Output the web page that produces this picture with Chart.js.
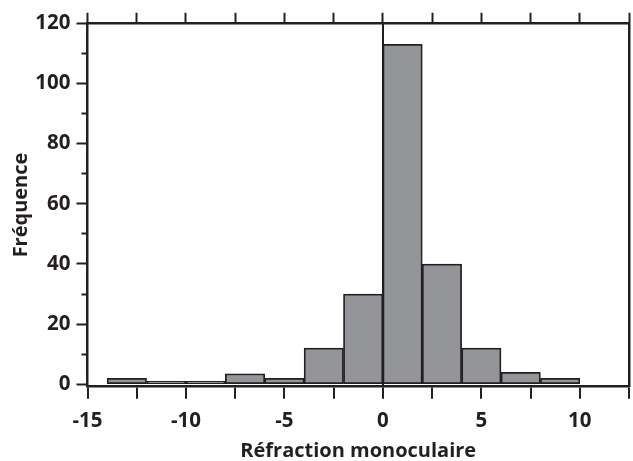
<!DOCTYPE html>
<html>
<head>
<meta charset="utf-8">
<script src="https://cdn.jsdelivr.net/npm/chart.js@4/dist/chart.umd.min.js"></script>
<style>
  html, body { margin: 0; padding: 0; background: #ffffff; }
  #wrap { width: 633px; height: 461px; }
</style>
</head>
<body>
<div id="wrap"><canvas id="c" width="633" height="461"></canvas></div>
<script>
// ---- Data ----
const binCenters = [-13, -11, -9, -7, -5, -3, -1, 1, 3, 5, 7, 9];   // bins of width 2 from -14 to 10
const counts     = [2, 1, 1, 3.5, 2, 12, 30, 113, 40, 12, 4, 2];
const yMajorTicks = [0, 20, 40, 60, 80, 100, 120];
const yMinorTicks = [10, 30, 50, 70, 90, 110];
const xLabelTicks = [-15, -10, -5, 0, 5, 10];
const xTitle = 'Réfraction monoculaire';
const yTitle = 'Fréquence';

const INK = '#231f20';
const FILL = '#939598';
const FONT = "'Open Sans', 'Noto Sans', sans-serif";

const X_MIN = -15, X_MAX = 12.5, Y_MIN = -0.8, Y_MAX = 120;

const data = {
  datasets: [{
    type: 'bar',
    data: binCenters.map((c, i) => ({ x: c, y: counts[i] })),
    backgroundColor: FILL,
    borderColor: INK,
    borderWidth: 1.75,
    borderSkipped: false,
    barPercentage: 1,
    categoryPercentage: 1,
    xAxisID: 'x',
    yAxisID: 'y'
  }]
};

new Chart(document.getElementById('c'), {
  type: 'bar',
  data,
  options: {
    responsive: false,
    devicePixelRatio: 1,
    animation: false,
    layout: { padding: 0 },
    plugins: { legend: { display: false }, tooltip: { enabled: false } },
    scales: {
      x: {
        type: 'linear', position: 'bottom', min: X_MIN, max: X_MAX,
        offset: false,
        ticks: {
          stepSize: 2.5, autoSkip: false, maxRotation: 0, padding: 10,
          color: INK, font: { family: FONT, weight: 'bold', size: 20.5 },
          callback: v => xLabelTicks.includes(v) ? String(v) : ''
        },
        grid: {
          offset: false,
          drawOnChartArea: true, drawTicks: true, tickLength: 12,
          color: ctx => (ctx.tick && ctx.tick.value === 0) ? INK : 'rgba(0,0,0,0)',
          lineWidth: ctx => (ctx.tick && ctx.tick.value === 0) ? 2 : 0,
          tickColor: INK, tickWidth: 2
        },
        border: { display: true, color: INK, width: 2.5 },
        title: { display: true, text: xTitle, color: INK, padding: { top: 0, bottom: 0 },
                 font: { family: FONT, weight: 'bold', size: 20, lineHeight: 1 } },
        afterFit: s => { s.height = 74.3; s.paddingLeft = 0; s.paddingRight = 0; }
      },
      x2: {
        type: 'linear', axis: 'x', position: 'top', min: X_MIN, max: X_MAX,
        offset: false,
        ticks: { display: false, stepSize: 2.5, autoSkip: false },
        grid: { offset: false, drawOnChartArea: false, drawTicks: true, tickLength: 10.5, tickColor: INK, tickWidth: 2 },
        border: { display: true, color: INK, width: 2.5 },
        afterFit: s => { s.height = 23.3; s.paddingLeft = 0; s.paddingRight = 0; }
      },
      y: {
        type: 'linear', position: 'left', min: Y_MIN, max: Y_MAX, weight: 1,
        afterBuildTicks: s => { s.ticks = yMajorTicks.map(v => ({ value: v })); },
        ticks: { padding: 6, color: INK, font: { family: FONT, weight: 'bold', size: 20.5 } },
        grid: { drawOnChartArea: false, drawTicks: true, tickLength: 11, tickColor: INK, tickWidth: 2 },
        border: { display: true, color: INK, width: 2.5 },
        title: { display: true, text: yTitle, color: INK, padding: { top: 11.5, bottom: 0 },
                 font: { family: FONT, weight: 'bold', size: 20, lineHeight: 1 } },
        afterFit: s => { s.width = 87.5; }
      },
      yMinor: {
        type: 'linear', axis: 'y', position: 'left', min: Y_MIN, max: Y_MAX, weight: 0,
        afterBuildTicks: s => { s.ticks = yMinorTicks.map(v => ({ value: v })); },
        ticks: { display: false },
        grid: { drawOnChartArea: false, drawTicks: true, tickLength: 6, tickColor: INK, tickWidth: 2 },
        border: { display: false },
        afterFit: s => { s.width = 0; }
      },
      yR: {
        type: 'linear', axis: 'y', position: 'right', min: Y_MIN, max: Y_MAX,
        ticks: { display: false },
        grid: { display: true, drawOnChartArea: false, drawTicks: false },
        border: { display: true, color: INK, width: 2.5 },
        afterFit: s => { s.width = 4; }
      }
    }
  }
});
</script>
</body>
</html>
